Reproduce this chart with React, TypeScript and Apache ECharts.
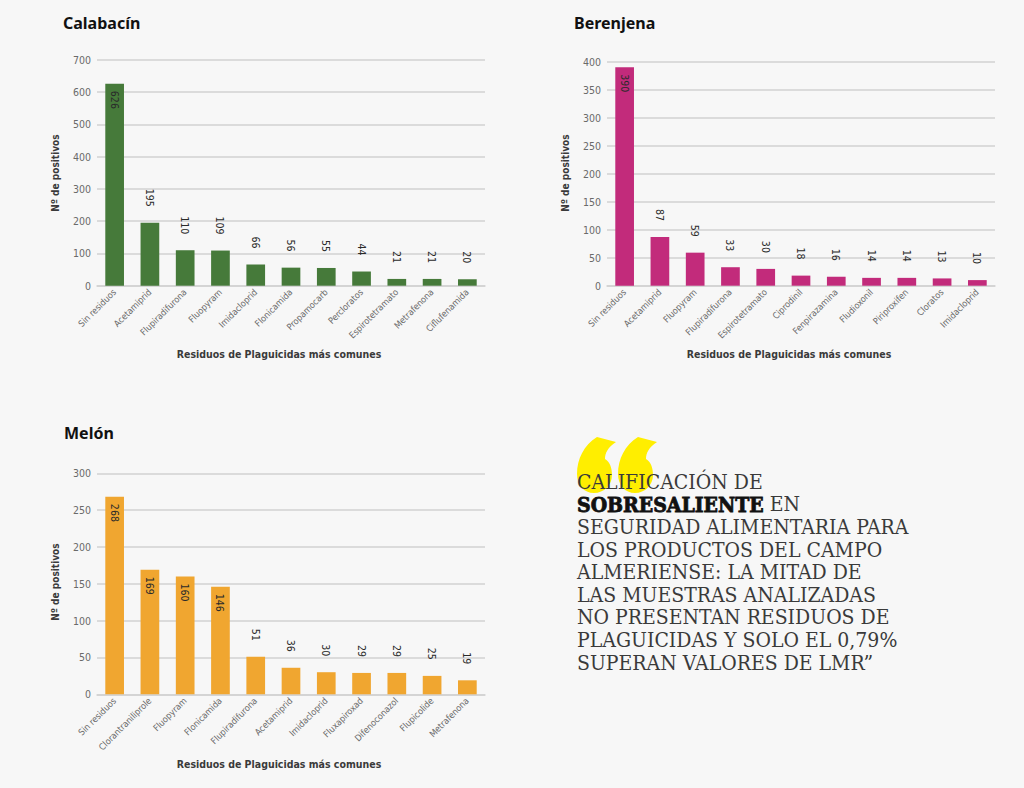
import React, { useEffect, useRef } from "react";
import * as echarts from "echarts";

const CAT_CALABACIN = ["Sin residuos", "Acetamiprid", "Flupiradifurona", "Fluopyram", "Imidacloprid", "Flonicamida", "Propamocarb", "Percloratos", "Espirotetramato", "Metrafenona", "Ciflufenamida"];
const VAL_CALABACIN = [626, 195, 110, 109, 66, 56, 55, 44, 21, 21, 20];

const CAT_BERENJENA = ["Sin residuos", "Acetamiprid", "Fluopyram", "Flupiradifurona", "Espirotetramato", "Ciprodinil", "Fenpirazamina", "Fludioxonil", "Piriproxifen", "Cloratos", "Imidacloprid"];
const VAL_BERENJENA = [390, 87, 59, 33, 30, 18, 16, 14, 14, 13, 10];

const CAT_MELON = ["Sin residuos", "Clorantraniliprole", "Fluopyram", "Flonicamida", "Flupiradifurona", "Acetamiprid", "Imidacloprid", "Fluxapiroxad", "Difenoconazol", "Flupicolide", "Metrafenona"];
const VAL_MELON = [268, 169, 160, 146, 51, 36, 30, 29, 29, 25, 19];

const Y_MAX = [700, 400, 300];
const Y_INTERVAL = [100, 50, 50];

const TITLES = ["Calabacín", "Berenjena", "Melón"];
const Y_NAME = "Nº de positivos";
const X_NAME = "Residuos de Plaguicidas más comunes";

const QUOTE_LINES = [
  "CALIFICACIÓN DE",
  "{b|SOBRESALIENTE} EN",
  "SEGURIDAD ALIMENTARIA PARA",
  "LOS PRODUCTOS DEL CAMPO",
  "ALMERIENSE: LA MITAD DE",
  "LAS MUESTRAS ANALIZADAS",
  "NO PRESENTAN RESIDUOS DE",
  "PLAGUICIDAS Y SOLO EL 0,79%",
  "SUPERAN VALORES DE LMR”",
];

const COLORS = ["#467a3a", "#c22b7b", "#f0a630"];
const NARROW = "'Liberation Sans Narrow', 'DejaVu Sans Condensed', Roboto, sans-serif";
const SERIF = "'DejaVu Serif Condensed', 'Liberation Serif', serif";

const QUOTE_PATH =
  "M 20 0 L 39 5 C 31 10 28 16 28 22 C 33 25 35 31 35 38 C 35 48 27 56 17 56 C 7 56 0 48 0 37 C 0 22 7 8 20 0 Z";

const GRIDS = [
  { left: 97, top: 60, width: 388, height: 225.7 },
  { left: 607, top: 61.7, width: 388, height: 224 },
  { left: 97, top: 473.3, width: 388, height: 221 },
];
const TITLE_POS = [
  [63, 23],
  [574, 23],
  [64, 433],
];
const XNAME_POS = [
  [279, 354],
  [789, 354],
  [279, 764],
];
const YNAME_POS = [
  [55, 173],
  [565, 173],
  [55, 582],
];

let registered = false;

export default function App() {
  const ref = useRef<HTMLDivElement>(null);
  useEffect(() => {
    if (!ref.current) return;
    if (!registered) {
      echarts.graphic.registerShape("quoteMark", echarts.graphic.extendPath(QUOTE_PATH, {}) as any);
      registered = true;
    }
    const chart = echarts.init(ref.current, undefined, { renderer: "svg" });
    const cats = [CAT_CALABACIN, CAT_BERENJENA, CAT_MELON];
    const vals = [VAL_CALABACIN, VAL_BERENJENA, VAL_MELON];

    const grid = GRIDS.map((g) => ({ ...g, containLabel: false }));
    const xAxis = cats.map((c, i) => ({
      type: "category",
      gridIndex: i,
      data: c,
      axisTick: { show: false },
      axisLine: { show: true, lineStyle: { color: "#d2d2d2", width: 1.5 } },
      axisLabel: {
        interval: 0,
        rotate: 45,
        fontSize: 9,
        color: "#6a6a6a",
        fontFamily: NARROW,
        margin: 5,
      },
    }));
    const yAxis = Y_MAX.map((m, i) => ({
      type: "value",
      gridIndex: i,
      min: 0,
      max: m,
      interval: Y_INTERVAL[i],
      axisLine: { show: false },
      axisTick: { show: false },
      splitLine: { lineStyle: { color: "#d2d2d2", width: 1.5 } },
      axisLabel: { fontSize: 10.5, color: "#6a6a6a", fontFamily: NARROW, margin: 6 },
    }));
    const series = vals.map((v, i) => ({
      type: "bar",
      xAxisIndex: i,
      yAxisIndex: i,
      barWidth: "53%",
      itemStyle: { color: COLORS[i] },
      data: v.map((val) => {
        const inside = val / Y_MAX[i] > 0.4;
        return {
          value: val,
          label: inside
            ? { show: true, position: "insideTop", distance: 7, rotate: -90, align: "left", verticalAlign: "middle" }
            : { show: true, position: "top", distance: 16, rotate: -90, align: "right", verticalAlign: "middle" },
        };
      }),
      label: { show: true, fontSize: 10.5, color: "#2a2a2a", fontFamily: NARROW },
    }));

    const graphic: any[] = [];
    // decorative quote marks (drawn first, behind text)
    graphic.push({ type: "quoteMark", x: 577, y: 437, style: { fill: "#ffee00" } });
    graphic.push({ type: "quoteMark", x: 618, y: 437, style: { fill: "#ffee00" } });

    TITLES.forEach((t, i) => {
      graphic.push({
        type: "text",
        x: TITLE_POS[i][0],
        y: TITLE_POS[i][1],
        style: { text: t, fontSize: 16, fontWeight: "bold", fill: "#111", fontFamily: "'Noto Sans', sans-serif", verticalAlign: "middle", align: "left" },
      });
      graphic.push({
        type: "text",
        x: XNAME_POS[i][0],
        y: XNAME_POS[i][1],
        style: { text: X_NAME, fontSize: 10.5, fontWeight: "bold", fill: "#3a3a3a", fontFamily: NARROW, verticalAlign: "middle", align: "center" },
      });
      graphic.push({
        type: "text",
        x: YNAME_POS[i][0],
        y: YNAME_POS[i][1],
        rotation: Math.PI / 2,
        style: { text: Y_NAME, fontSize: 10, fontWeight: "bold", fill: "#3a3a3a", fontFamily: NARROW, verticalAlign: "middle", align: "center" },
      });
    });
    QUOTE_LINES.forEach((line, k) => {
      graphic.push({
        type: "text",
        x: 577,
        y: 481.7 + k * 22.6,
        style: {
          text: line,
          fontSize: 21,
          fill: "#3a3a3a",
          fontFamily: SERIF,
          verticalAlign: "middle",
          align: "left",
          rich: {
            b: {
              fontSize: 21,
              fontWeight: "bold",
              fill: "#111",
              fontFamily: SERIF,
              stroke: "#111",
              lineWidth: 0.8,
            },
          },
        },
      });
    });

    chart.setOption({
      animation: false,
      backgroundColor: "#f7f7f7",
      grid,
      xAxis,
      yAxis,
      series,
      graphic,
    } as any);
    return () => chart.dispose();
  }, []);
  return <div ref={ref} style={{ position: "fixed", left: 0, top: 0, width: 1024, height: 788 }} />;
}
